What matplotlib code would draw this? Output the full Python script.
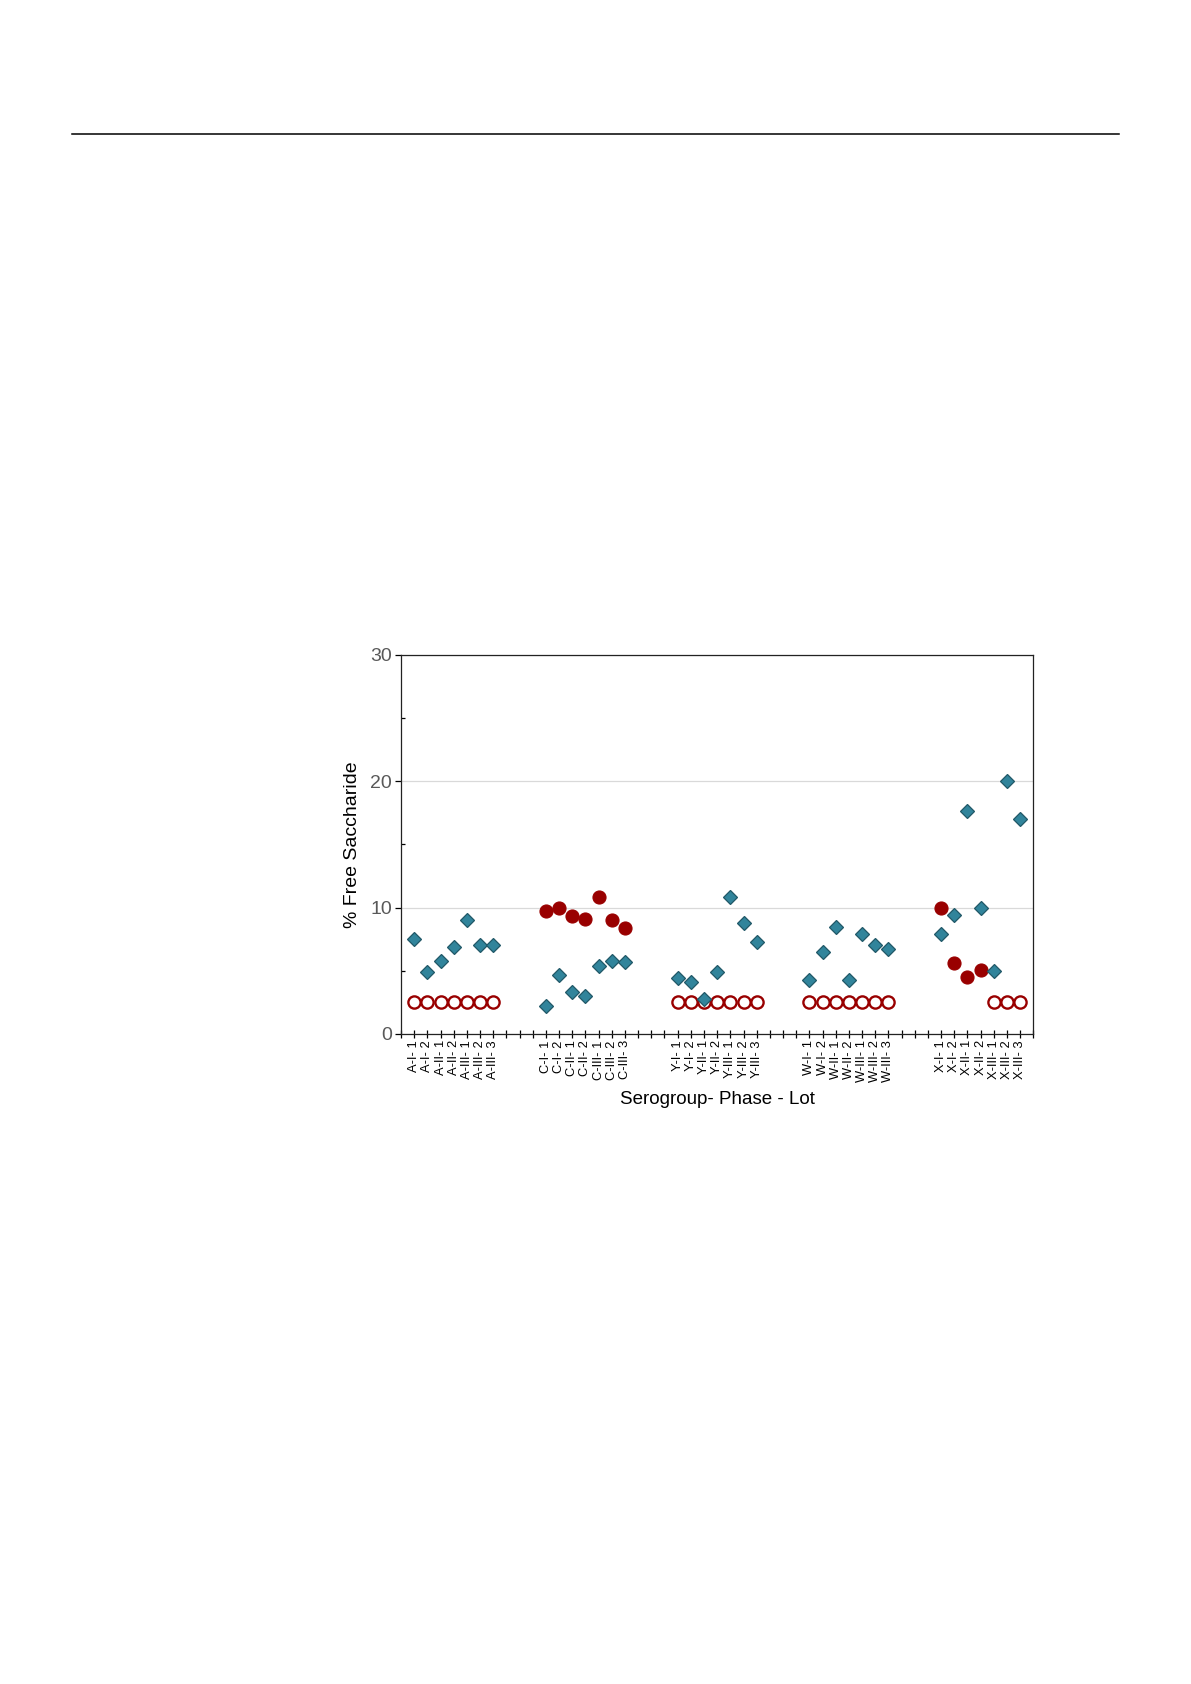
import numpy as np
import matplotlib
matplotlib.use("Agg")
import matplotlib.pyplot as plt
from matplotlib.lines import Line2D

plt.rcParams['font.family'] = ['Liberation Sans', 'DejaVu Sans']

# serogroups, phases and lots on the x axis
groups = ['A', 'C', 'Y', 'W', 'X']
lots = ['I- 1', 'I- 2', 'II- 1', 'II- 2', 'III- 1', 'III- 2', 'III- 3']

# % free saccharide (diamonds), one row per serogroup
diamond_vals = {
    'A': [7.5, 4.9, 5.8, 6.9, 9.0, 7.0, 7.0],
    'C': [2.2, 4.7, 3.3, 3.0, 5.4, 5.8, 5.7],
    'Y': [4.4, 4.1, 2.8, 4.9, 10.8, 8.8, 7.3],
    'W': [4.3, 6.5, 8.5, 4.3, 7.9, 7.0, 6.7],
    'X': [7.9, 9.4, 17.6, 10.0, 5.0, 20.0, 17.0],
}
# filled red circles (nan = no point)
filled_vals = {
    'A': [np.nan] * 7,
    'C': [9.7, 10.0, 9.3, 9.1, 10.8, 9.0, 8.4],
    'Y': [np.nan] * 7,
    'W': [np.nan] * 7,
    'X': [10.0, 5.6, 4.5, 5.1, np.nan, np.nan, np.nan],
}
# open red circles
open_vals = {
    'A': [2.5] * 7,
    'C': [np.nan] * 7,
    'Y': [2.5] * 7,
    'W': [2.5] * 7,
    'X': [np.nan, np.nan, np.nan, np.nan, 2.5, 2.5, 2.5],
}

TEAL = '#31849B'
TEAL_EDGE = '#215867'
RED = '#990000'

fig = plt.figure(figsize=(11.91, 16.84), dpi=100)
ax = fig.add_axes([0.3367, 0.3860, 0.5309, 0.2252])

# rule at the top of the page
fig.add_artist(Line2D([72 / 1191, 1119 / 1191], [1 - 134 / 1684] * 2,
                      color='black', lw=1.1))

tick_pos = []
tick_lab = []
for gi, g in enumerate(groups):
    x = np.arange(1, 8) + gi * 10
    tick_pos += list(x)
    tick_lab += [f'{g}-{l}' for l in lots]
    ax.plot(x, open_vals[g], 'o', ms=8.8, mfc='white', mec=RED, mew=1.7,
            ls='none', zorder=3)
    ax.plot(x, filled_vals[g], 'o', ms=9.4, mfc=RED, mec=RED, mew=0.8,
            ls='none', zorder=4)
    ax.plot(x, diamond_vals[g], 'D', ms=7.2, mfc=TEAL, mec=TEAL_EDGE, mew=0.9,
            ls='none', zorder=5)

ax.set_xlim(0, 48)
ax.set_ylim(0, 30)

# x ticks at every integer, labels only at the lots
ax.set_xticks(np.arange(0, 49), minor=True)
ax.set_xticks(tick_pos)
ax.set_xticklabels(tick_lab, rotation=90, fontsize=9.3)
ax.tick_params(axis='x', which='both', direction='inout', length=6,
               width=0.9, pad=1.5)

ax.set_yticks([0, 10, 20, 30])
ax.set_yticks([5, 15, 25], minor=True)
ax.tick_params(axis='y', which='major', direction='out', length=4.5,
               width=0.9, labelsize=14, labelcolor='#595959', pad=2)
ax.tick_params(axis='y', which='minor', direction='in', length=3, width=0.9)

ax.grid(axis='y', which='major', color='#D9D9D9', lw=0.9)
ax.set_axisbelow(True)

for s in ax.spines.values():
    s.set_linewidth(0.9)
    s.set_color('#222222')

ax.set_ylabel('% Free Saccharide', fontsize=14, labelpad=7)
ax.set_xlabel('Serogroup- Phase - Lot', fontsize=13.5, labelpad=6)

fig.savefig('out.png', dpi=100)
